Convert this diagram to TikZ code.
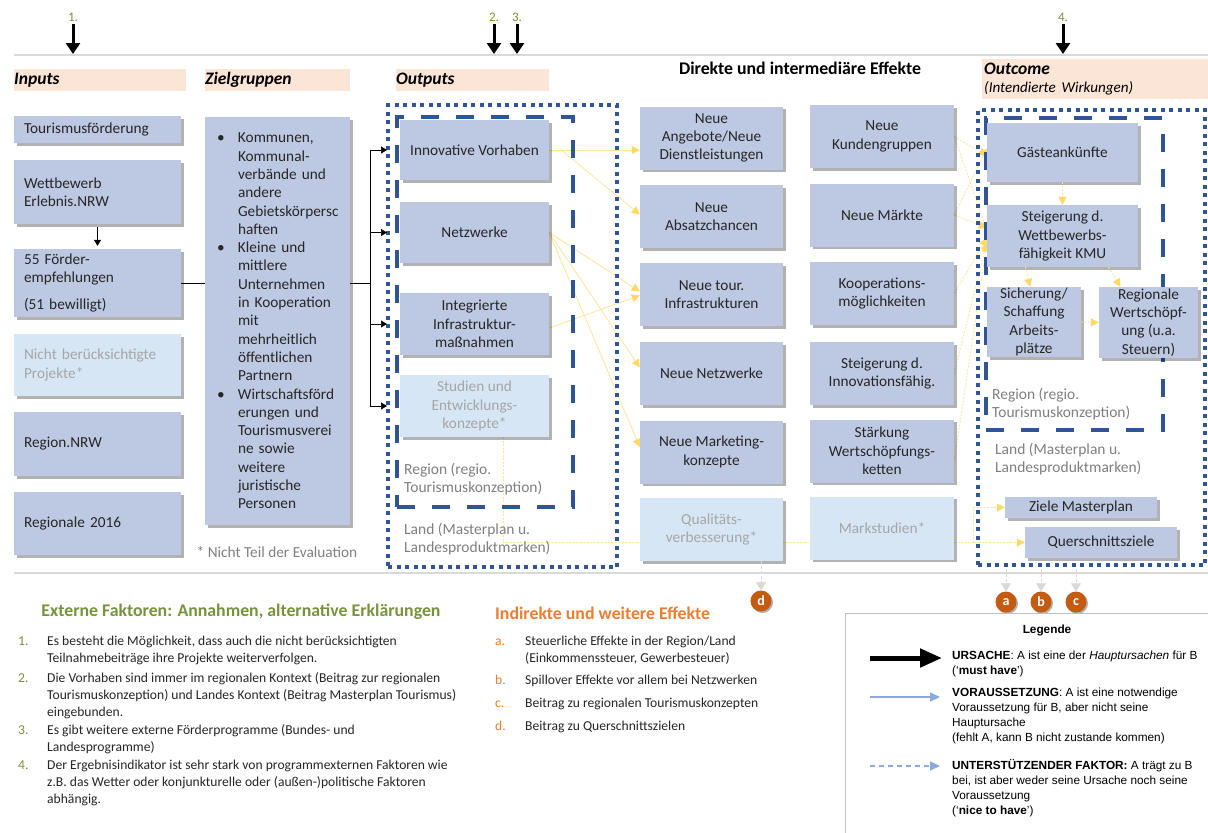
\documentclass[tikz,border=0pt]{standalone}
\usepackage{fontspec}
\setmainfont{Carlito}
\newfontfamily\legfont{Liberation Sans}
\usetikzlibrary{arrows.meta,shadows,calc}
\definecolor{boxf}{HTML}{BDC9E2}
\definecolor{lightf}{HTML}{D6E6F5}
\definecolor{txt}{HTML}{262626}
\definecolor{graytxt}{HTML}{A6A6A6}
\definecolor{regtxt}{HTML}{808080}
\definecolor{peach}{HTML}{FBE5D6}
\definecolor{dblue}{HTML}{2F5597}
\definecolor{ylw}{HTML}{FFE599}
\definecolor{ylwh}{HTML}{FFD966}
\definecolor{grn}{HTML}{77933C}
\definecolor{orng}{HTML}{ED7D31}
\definecolor{corng}{HTML}{C55A11}
\definecolor{lblue}{HTML}{8EA9DB}
\definecolor{sepc}{HTML}{D9D9D9}
\definecolor{legbord}{HTML}{BFBFBF}
\newcommand\bxfont{\fontsize{15.3}{18.3}\selectfont}
\newcommand\smfont{\fontsize{13.6}{16.6}\selectfont}
\newcommand\lgfont{\legfont\fontsize{11.8}{15}\selectfont}
\newcommand\zgb{\hspace*{7pt}\makebox[21pt][l]{\textbullet}}
\newcommand\zgi{\hspace*{28pt}}
\pgfdeclarelayer{bgw}
\pgfdeclarelayer{bg}
\pgfsetlayers{bgw,bg,main}
\tikzset{
  bx/.style={fill=boxf,text=txt,inner sep=0pt,align=center,font=\bxfont,
    drop shadow={shadow xshift=2.5pt,shadow yshift=-2.5pt,opacity=0.3,fill=black}},
  lbx/.style={bx,fill=lightf,text=graytxt},
  lft/.style={text width=147pt,align=left},
  band/.style={fill=peach,inner sep=0pt,anchor=west,align=left,font=\fontsize{17.5}{20}\selectfont\bfseries\itshape},
  lab/.style={inner sep=0pt,align=left,anchor=north west,text=regtxt,font=\fontsize{15.5}{18.3}\selectfont},
  dotbox/.style={draw=dblue,line width=4pt,dash pattern=on 4pt off 4.5pt,inner sep=0pt},
  dashbox/.style={draw=dblue,line width=4pt,dash pattern=on 18pt off 17pt,inner sep=0pt},
  ylw/.style={draw=ylw,line width=0.8pt,-{Triangle[length=8pt,width=8pt,color=ylwh]}},
  ylwd/.style={ylw,dash pattern=on 2pt off 1.5pt},
  garr/.style={draw=sepc,line width=0.8pt,dash pattern=on 3pt off 2pt,-{Triangle[length=8pt,width=10pt,color=sepc]}},
  toparr/.style={line width=3pt,-{Triangle[length=11pt,width=14pt]}},
  blk/.style={line width=0.7pt},
  circ/.style={circle,fill=corng,text=white,inner sep=0pt,minimum size=21pt,font=\fontsize{14}{14}\selectfont\bfseries,
    drop shadow={shadow xshift=1.5pt,shadow yshift=-1.5pt,opacity=0.3,fill=black}},
  numf/.style={text=grn,font=\fontsize{13}{15}\selectfont,inner sep=0pt},
  it/.style={inner sep=0pt,anchor=north west,align=left,font=\smfont,text=txt},
  hd/.style={inner sep=0pt,font=\fontsize{17.8}{20}\selectfont\bfseries},
  lgt/.style={inner sep=0pt,anchor=north west,align=left,font=\lgfont},
}
\begin{document}
\begin{tikzpicture}[x=1pt,y=-1pt]
\useasboundingbox (0,0) rectangle (1208,833);
\begin{pgfonlayer}{bgw}
\fill[white] (0,0) rectangle (1208,833);
\end{pgfonlayer}

% separators
\coordinate (tl) at (0,54);
\draw[sepc,line width=1.2pt] (14,55) -- (1208,55);
\draw[sepc,line width=1.2pt] (14,573) -- (1208,573);

% top numbers and arrows
\node[numf] (t1) at (73,17) {1.};
\node[numf] (t2) at (494,17) {2.};
\node[numf] (t3) at (517,17) {3.};
\node[numf] (t4) at (1063,17) {4.};
\foreach \n in {t1,t2,t3,t4} \draw[toparr] ([yshift=-3pt]\n.south) -- (\n.south |- tl);

% header bands
\node[band,minimum width=172pt,minimum height=22pt,text width=172pt] (hin) at (14,80) {Inputs};
\node[band,minimum width=145pt,minimum height=22pt,text width=145pt] (hzg) at (205,80) {Zielgruppen};
\node[band,minimum width=153pt,minimum height=22pt,text width=153pt] (hout) at (396,80) {Outputs};
\node[band,minimum width=226pt,minimum height=40pt,text width=222pt,inner xsep=2pt] (hoc) at (982,79)
  {Outcome\\[-2pt]{\mdseries\fontsize{15.1}{17}\selectfont(Intendierte Wirkungen)}};
\node[font=\fontsize{17.8}{20}\selectfont\bfseries,text=black] (title) at (800,68) {Direkte und intermediäre Effekte};

% Inputs column
\node[bx,lft,minimum width=167pt,minimum height=27pt] (tf) at (97.5,129.5) {Tourismusförderung};
\node[bx,lft,minimum width=167pt,minimum height=64pt] (wb) at (97.5,192) {Wettbewerb\\Erlebnis.NRW};
\node[bx,lft,minimum width=167pt,minimum height=68pt] (fe) at (97.5,283) {55 Förder-\\empfehlungen\\[9pt](51 bewilligt)};
\node[lbx,lft,minimum width=167pt,minimum height=62pt] (nb) at (97.5,365) {Nicht berücksichtigte\\Projekte*};
\node[bx,lft,minimum width=167pt,minimum height=64pt] (rn) at (97.5,444) {Region.NRW};
\node[bx,lft,minimum width=167pt,minimum height=63pt] (r16) at (97.5,523.5) {Regionale 2016};
\draw[blk,-{Triangle[length=6pt,width=7pt]},shorten <=3pt,shorten >=3pt] (wb.south) -- (fe.north);

% Zielgruppen
\node[bx,text width=135pt,align=left,minimum width=145pt,minimum height=408pt] (zg) at (277.5,321)
{\zgb Kommunen,\\\zgi Kommunal-\\\zgi verbände und\\\zgi andere\\\zgi Gebietskörpersc\\\zgi haften\\
\zgb Kleine und\\\zgi mittlere\\\zgi Unternehmen\\\zgi in Kooperation\\\zgi mit\\\zgi mehrheitlich\\\zgi öffentlichen\\\zgi Partnern\\
\zgb Wirtschaftsförd\\\zgi erungen und\\\zgi Tourismusverei\\\zgi ne sowie\\\zgi weitere\\\zgi juristische\\\zgi Personen};
\node[inner sep=0pt,text=regtxt,font=\bxfont] (nte) at (277,552) {* Nicht Teil der Evaluation};

% Outputs frames
\node[dotbox,minimum width=229pt,minimum height=462pt] (odot) at (502.5,336) {};
\node[dashbox,minimum width=176pt,minimum height=390pt] (odash) at (485,312) {};
\node[bx,minimum width=149pt,minimum height=60pt] (iv) at (474.5,150) {Innovative Vorhaben};
\node[bx,minimum width=149pt,minimum height=61pt] (nw) at (474.5,232.5) {Netzwerke};
\node[bx,minimum width=149pt,minimum height=62pt] (ii) at (474.5,324) {Integrierte\\Infrastruktur-\\maßnahmen};
\node[lbx,minimum width=149pt,minimum height=62pt] (se) at (474.5,406) {Studien und\\Entwicklungs-\\konzepte*};
\node[lab] (rl1) at (404,463) {Region (regio.\\Tourismuskonzeption)};
\node[lab] (ll1) at (404,523) {Land (Masterplan u.\\Landesproduktmarken)};

% black connectors
\coordinate (jn) at (370,283);
\draw[blk] (fe.east |- jn) -- (zg.west |- jn);
\draw[blk] (zg.east |- jn) -- (jn);
\draw[blk] (jn |- iv.west) -- (jn |- se.west);
\foreach \b in {iv,nw,ii,se}
  \draw[blk,-{Triangle[length=6pt,width=7pt]}] (jn |- \b.west) -- ([xshift=1pt]odot.west |- \b.west);

% Direct effects
\node[bx,minimum width=143pt,minimum height=63pt] (naa) at (711.5,138) {Neue\\Angebote/Neue\\Dienstleistungen};
\node[bx,minimum width=143pt,minimum height=63pt] (nab) at (711.5,216.5) {Neue\\Absatzchancen};
\node[bx,minimum width=143pt,minimum height=63pt] (nti) at (711.5,294.5) {Neue tour.\\Infrastrukturen};
\node[bx,minimum width=143pt,minimum height=63pt] (nnw) at (711.5,373.5) {Neue Netzwerke};
\node[bx,minimum width=143pt,minimum height=63pt] (nmk) at (711.5,452) {Neue Marketing-\\konzepte};
\node[lbx,minimum width=143pt,minimum height=63pt] (qv) at (711.5,529.5) {Qualitäts-\\verbesserung*};
\node[bx,minimum width=144pt,minimum height=63pt] (nkg) at (882,136.5) {Neue\\Kundengruppen};
\node[bx,minimum width=144pt,minimum height=63pt] (nm) at (882,215) {Neue Märkte};
\node[bx,minimum width=144pt,minimum height=63pt] (km) at (882,293.5) {Kooperations-\\möglichkeiten};
\node[bx,minimum width=144pt,minimum height=63pt] (si) at (882,373.5) {Steigerung d.\\Innovationsfähig.};
\node[bx,minimum width=144pt,minimum height=63pt] (swk) at (882,451) {Stärkung\\Wertschöpfungs-\\ketten};
\node[lbx,minimum width=144pt,minimum height=63pt] (ms) at (882,528) {Markstudien*};

% Outcome
\node[dotbox,minimum width=227pt,minimum height=455pt] (ocdot) at (1091.5,337.5) {};
\node[dashbox,minimum width=177pt,minimum height=312pt] (ocdash) at (1074.5,274) {};
\node[bx,minimum width=151pt,minimum height=59pt] (ga) at (1062.5,152.5) {Gästeankünfte};
\node[bx,minimum width=151pt,minimum height=62pt] (sw) at (1062.5,236) {Steigerung d.\\Wettbewerbs-\\fähigkeit KMU};
\node[bx,minimum width=94pt,minimum height=70pt] (sa) at (1034,322) {Sicherung/\\Schaffung\\Arbeits-\\plätze};
\node[bx,minimum width=99pt,minimum height=71pt] (rw) at (1148.5,322.5) {Regionale\\Wertschöpf-\\ung (u.a.\\Steuern)};
\node[lab] (rl2) at (992,388) {Region (regio.\\Tourismuskonzeption)};
\node[lab] (ll2) at (995,443) {Land (Masterplan u.\\Landesproduktmarken)};
\node[bx,minimum width=152pt,minimum height=21pt] (zm) at (1081,507.5) {Ziele Masterplan};
\node[bx,minimum width=152pt,minimum height=31pt] (qz) at (1101,542.5) {Querschnittsziele};

% circles
\node[circ] (ca) at (1006,602) {a};
\node[circ] (cb) at (1041,602) {b};
\node[circ] (cc) at (1076,602) {c};
\node[circ] (cd) at (761,601) {d};
\foreach \c in {ca,cb,cc} \draw[garr] ([yshift=-2pt]\c |- ocdot.south) -- (\c.north);
\draw[garr] (cd |- qv.south) -- (cd.north);

% yellow connectors (behind)
\begin{pgfonlayer}{bg}
\draw[ylw] (iv.east) -- (naa.west |- iv.east);
\draw[ylw] ([xshift=12pt]iv.east) -- ([yshift=2pt]nab.west);
\draw[ylw] (nw.east) -- ([yshift=3pt]nti.west);
\draw[ylw] (nw.east) -- ([yshift=6pt]nnw.west);
\draw[ylw] (nw.east) -- ([yshift=5pt]nmk.west);
\draw[ylw] ([yshift=-4pt]ii.east) -- ([yshift=-1pt]nti.west);
\coordinate (yb) at (973,542.5);
\draw[ylwd] ([xshift=28.5pt]se.south) |- (qz.west);
\draw[ylwd] (yb) |- (zm.west);
\draw[ylwd] (nkg.east) -- ([yshift=-3pt]ga.west);
\draw[ylwd] (nkg.east) -- ([yshift=6pt]sw.west);
\draw[ylwd] (nm.east) -- ([yshift=4pt]ga.west);
\draw[ylwd] (nm.east) -- ([yshift=8pt]sw.west);
\draw[ylwd] (km.east) -- ([yshift=-2pt]sw.west);
\draw[ylwd] (si.east) -- ([yshift=-6pt]sw.west);
\draw[ylwd] ([yshift=-10pt]swk.east) -- ([yshift=-8pt]sw.west);
\end{pgfonlayer}
\draw[ylwd] (ga.south) -- (sw.north);
\draw[ylwd] ([xshift=-37pt]sw.south) -- ([xshift=-4pt]sa.north);
\draw[ylwd] ([xshift=46pt]sw.south) -- ([xshift=-28pt]rw.north);
\draw[ylwd] (sa.east) -- (rw.west);

% External factors
\node[hd,text=grn] (ext) at (241,612) {Externe Faktoren: Annahmen, alternative Erklärungen};
\node[it,text=grn] (e1n) at (18,634) {\strut 1.};
\node[it] (e1) at (47,634) {\strut Es besteht die Möglichkeit, dass auch die nicht berücksichtigten\\Teilnahmebeiträge ihre Projekte weiterverfolgen.};
\node[it,text=grn] (e2n) at (18,671) {\strut 2.};
\node[it] (e2) at (47,671) {\strut Die Vorhaben sind immer im regionalen Kontext (Beitrag zur regionalen\\Tourismuskonzeption) und Landes Kontext (Beitrag Masterplan Tourismus)\\eingebunden.};
\node[it,text=grn] (e3n) at (18,723) {\strut 3.};
\node[it] (e3) at (47,723) {\strut Es gibt weitere externe Förderprogramme (Bundes- und\\Landesprogramme)};
\node[it,text=grn] (e4n) at (18,758) {\strut 4.};
\node[it] (e4) at (47,758) {\strut Der Ergebnisindikator ist sehr stark von programmexternen Faktoren wie\\z.B. das Wetter oder konjunkturelle oder (außen-)politische Faktoren\\abhängig.};

% Indirect effects
\node[hd,text=orng,anchor=west] (ind) at (495,613) {Indirekte und weitere Effekte};
\node[it,text=orng] (ian) at (495,634) {\strut a.};
\node[it] (ia) at (525,634) {\strut Steuerliche Effekte in der Region/Land\\(Einkommenssteuer, Gewerbesteuer)};
\node[it,text=orng] (ibn) at (495,673) {\strut b.};
\node[it] (ib) at (525,673) {\strut Spillover Effekte vor allem bei Netzwerken};
\node[it,text=orng] (icn) at (495,696) {\strut c.};
\node[it] (ic) at (525,696) {\strut Beitrag zu regionalen Tourismuskonzepten};
\node[it,text=orng] (idn) at (495,719) {\strut d.};
\node[it] (id) at (525,719) {\strut Beitrag zu Querschnittszielen};

% Legend
\draw[legbord,line width=1pt] (1208,613) -- (845,613) -- (845,833);
\node[inner sep=0pt,font=\lgfont\bfseries] (lg) at (1047,630) {Legende};
\coordinate (l1a) at (870,658); \coordinate (l1b) at (942,658);
\draw[line width=5pt,-{Triangle[length=22pt,width=18pt]}] (l1a) -- (l1b);
\coordinate (l2a) at (870,697); \coordinate (l2b) at (940,697);
\draw[lblue,line width=1.5pt,-{Triangle[length=10pt,width=9pt]}] (l2a) -- (l2b);
\coordinate (l3a) at (870,766); \coordinate (l3b) at (940,766);
\draw[lblue,line width=1.5pt,dash pattern=on 5pt off 4pt,-{Triangle[length=10pt,width=9pt]}] (l3a) -- (l3b);
\node[lgt] (lt1) at (952,651) {\textbf{URSACHE}: A ist eine der \textit{Hauptursachen} für B\\(‘\textbf{must have}’)};
\node[lgt] (lt2) at (952,688) {\textbf{VORAUSSETZUNG}: A ist eine notwendige\\Voraussetzung für B, aber nicht seine\\Hauptursache\\(fehlt A, kann B nicht zustande kommen)};
\node[lgt] (lt3) at (952,759) {\textbf{UNTERSTÜTZENDER FAKTOR:} A trägt zu B\\bei, ist aber weder seine Ursache noch seine\\Voraussetzung\\(‘\textbf{nice to have}’)};
\end{tikzpicture}
\end{document}
